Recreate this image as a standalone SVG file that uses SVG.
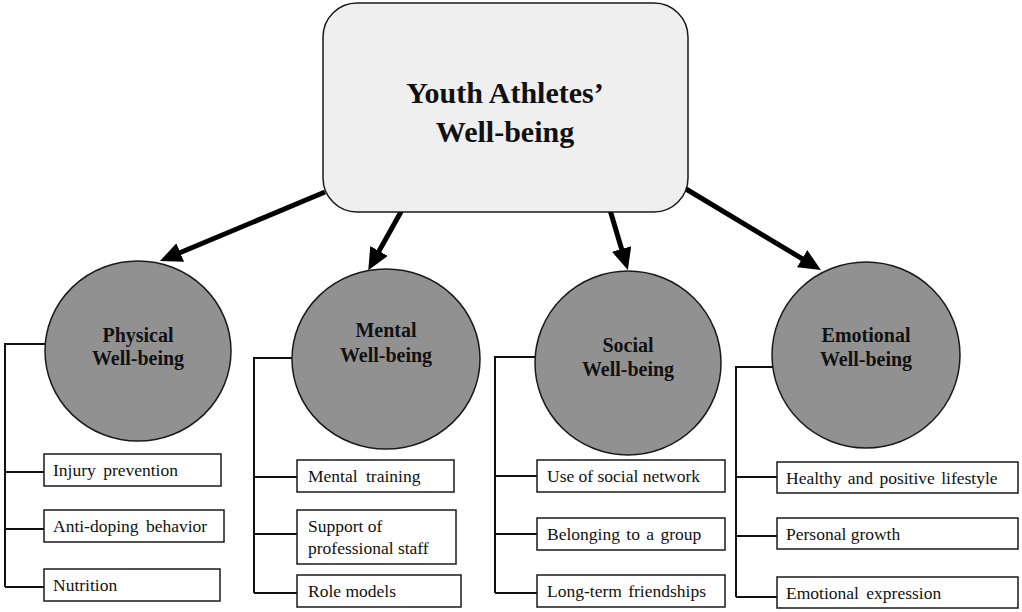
<svg xmlns="http://www.w3.org/2000/svg" width="1022" height="612" viewBox="0 0 1022 612">
<style>
.title{font-family:"Liberation Serif","Times New Roman",serif;font-weight:bold;font-size:30px;fill:#111;text-anchor:middle}
.cat{font-family:"Liberation Serif","Times New Roman",serif;font-weight:bold;font-size:20px;fill:#111;text-anchor:middle}
.item{font-family:"Liberation Serif","Times New Roman",serif;font-size:17.5px;fill:#111}
.ell{fill:#919191;stroke:#1a1a1a;stroke-width:1.5}
.box{fill:#fff;stroke:#1a1a1a;stroke-width:1.5}
.arrow{stroke:#000;stroke-width:5;fill:none;marker-end:url(#ah)}
.br{stroke:#111;stroke-width:2;fill:none}
</style>
<defs>
<marker id="ah" markerUnits="userSpaceOnUse" markerWidth="22" markerHeight="20" refX="7" refY="10" orient="auto">
<path d="M0,0 L22,10 L0,20 z" fill="#000"/>
</marker>
</defs>
<rect width="1022" height="612" fill="#fff"/>
<g id="connectors">
<line class="arrow" x1="325" y1="192" x2="173.8" y2="255.2"/>
<line class="arrow" x1="402" y1="210" x2="375.6" y2="257.1"/>
<line class="arrow" x1="610" y1="210" x2="623.6" y2="255.7"/>
<line class="arrow" x1="686" y1="189" x2="808.1" y2="262.3"/>
<path class="br" d="M45,344 H5 V587 M5,472 H44 M5,529 H44 M5,587 H44"/>
<path class="br" d="M292,358 H254 V593 M254,477 H297 M254,534 H297 M254,593 H297"/>
<path class="br" d="M535,357 H495 V593 M495,476 H537 M495,534 H537 M495,593 H537"/>
<path class="br" d="M773,367 H736 V597 M736,477 H777 M736,536 H777 M736,597 H777"/>
</g>
<g id="root">
<rect x="323" y="3" width="365" height="209" rx="34" ry="34" fill="#efefef" stroke="#1a1a1a" stroke-width="1.5"/>
<text class="title" x="505" y="103">Youth Athletes’</text>
<text class="title" x="505" y="142">Well-being</text>
</g>
<g id="physical">
<ellipse class="ell" cx="138" cy="351" rx="93" ry="90"/>
<text class="cat" x="138" y="342">Physical</text>
<text class="cat" x="138" y="365">Well-being</text>
</g>
<g id="mental">
<ellipse class="ell" cx="386" cy="359" rx="94" ry="90"/>
<text class="cat" x="386" y="337">Mental</text>
<text class="cat" x="386" y="362">Well-being</text>
</g>
<g id="social">
<ellipse class="ell" cx="628" cy="363" rx="93" ry="92"/>
<text class="cat" x="628" y="352">Social</text>
<text class="cat" x="628" y="376">Well-being</text>
</g>
<g id="emotional">
<ellipse class="ell" cx="866" cy="355" rx="94" ry="93"/>
<text class="cat" x="866" y="342">Emotional</text>
<text class="cat" x="866" y="366">Well-being</text>
</g>
<g id="phys-injury"><rect class="box" x="44" y="454" width="177" height="32"/><text class="item" x="53" y="476" word-spacing="3">Injury prevention</text></g>
<g id="phys-doping"><rect class="box" x="44" y="510" width="180" height="32"/><text class="item" x="53" y="532" word-spacing="3">Anti-doping behavior</text></g>
<g id="phys-nutrition"><rect class="box" x="44" y="569" width="176" height="32"/><text class="item" x="53" y="591">Nutrition</text></g>
<g id="ment-training"><rect class="box" x="297" y="460" width="157" height="32"/><text class="item" x="308" y="482" word-spacing="4">Mental training</text></g>
<g id="ment-support"><rect class="box" x="297" y="510" width="159" height="54"/><text class="item" x="308" y="532">Support of</text><text class="item" x="308" y="554">professional staff</text></g>
<g id="ment-role"><rect class="box" x="297" y="575" width="164" height="32"/><text class="item" x="308" y="597">Role models</text></g>
<g id="soc-network"><rect class="box" x="537" y="460" width="188" height="32"/><text class="item" x="547" y="482">Use of social network</text></g>
<g id="soc-group"><rect class="box" x="537" y="518" width="188" height="32"/><text class="item" x="547" y="540" word-spacing="2">Belonging to a group</text></g>
<g id="soc-friend"><rect class="box" x="537" y="575" width="188" height="32"/><text class="item" x="547" y="597" word-spacing="2">Long-term friendships</text></g>
<g id="emo-lifestyle"><rect class="box" x="777" y="462" width="241" height="31"/><text class="item" x="786" y="484" word-spacing="2">Healthy and positive lifestyle</text></g>
<g id="emo-growth"><rect class="box" x="777" y="518" width="241" height="31"/><text class="item" x="786" y="540">Personal growth</text></g>
<g id="emo-expression"><rect class="box" x="777" y="577" width="241" height="31"/><text class="item" x="786" y="599" word-spacing="3">Emotional expression</text></g>
</svg>
